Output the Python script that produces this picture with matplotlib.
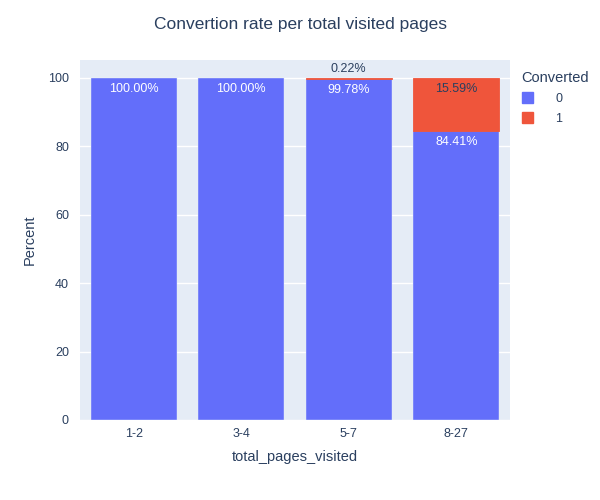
import matplotlib
matplotlib.use("Agg")
import matplotlib.pyplot as plt
from matplotlib.patches import Patch
import matplotlib.transforms as mtransforms

# data
categories = ["1-2", "3-4", "5-7", "8-27"]
pct_not_converted = [100.0, 100.0, 99.78, 84.41]
pct_converted = [0.0, 0.0, 0.22, 15.59]

blue = "#636efa"
red = "#EF553B"
text_col = "#2a3f5f"
bg = "#E5ECF6"

plt.rcParams["font.family"] = ["Liberation Sans", "DejaVu Sans"]

fig = plt.figure(figsize=(6, 5), dpi=100)
ax = fig.add_axes([80 / 600, 80 / 500, 430 / 600, 360 / 500])
ax.set_facecolor(bg)

x = list(range(len(categories)))
ax.bar(x, pct_not_converted, width=0.8, color=blue, edgecolor=bg, linewidth=0.3, zorder=3)
ax.bar(x, pct_converted, width=0.8, bottom=pct_not_converted, color=red,
       edgecolor=red, linewidth=[0.6 if v > 0 else 0 for v in pct_converted], zorder=3)

def offset(dy):
    return ax.transData + mtransforms.ScaledTranslation(0, dy / 72, fig.dpi_scale_trans)

for i, v in enumerate(pct_not_converted):
    if v > 0:
        ax.text(i, v, f"{v:.2f}%", ha="center", va="top", color="white",
                fontsize=9, transform=offset(-3.5), zorder=4)

for i, v in enumerate(pct_converted):
    if v <= 0:
        continue
    top = pct_not_converted[i] + v
    if v > 5:
        ax.text(i, top, f"{v:.2f}%", ha="center", va="top", color=text_col,
                fontsize=9, transform=offset(-3.5), zorder=4)
    else:
        ax.text(i, top, f"{v:.2f}%", ha="center", va="bottom", color=text_col,
                fontsize=9, transform=offset(2.5), zorder=4)

ax.set_xlim(-0.5, len(categories) - 0.5)
ax.set_ylim(0, 105.26)
ax.set_yticks([0, 20, 40, 60, 80, 100])
ax.set_xticks(x)
ax.set_xticklabels(categories)
ax.grid(axis="y", color="white", linewidth=1, zorder=0)
ax.set_axisbelow(True)
for s in ax.spines.values():
    s.set_visible(False)
ax.tick_params(axis="both", length=0, colors=text_col, labelsize=9)
ax.tick_params(axis="x", pad=6)
ax.tick_params(axis="y", pad=8)

ax.set_xlabel("total_pages_visited", fontsize=10.5, color=text_col, labelpad=7)
ax.set_ylabel("Percent", fontsize=10.5, color=text_col, labelpad=8)

fig.text(0.5, 1 - 24 / 500, "Convertion rate per total visited pages",
         ha="center", va="center", fontsize=12.5, color=text_col)

handles = [Patch(facecolor=blue, edgecolor=blue), Patch(facecolor=red, edgecolor=red)]
leg = fig.legend(handles, ["0", "1"], title="Converted", loc="upper left",
                 bbox_to_anchor=(513 / 600, 1 - 62 / 500), frameon=False,
                 fontsize=9, title_fontsize=10.5, handlelength=0.9, handleheight=0.9,
                 handletextpad=1.8, labelspacing=0.6, borderpad=0.2)
leg.get_title().set_color(text_col)
leg._legend_box.align = "left"
for t in leg.get_texts():
    t.set_color(text_col)

fig.savefig("out.png", dpi=100, facecolor="white")
